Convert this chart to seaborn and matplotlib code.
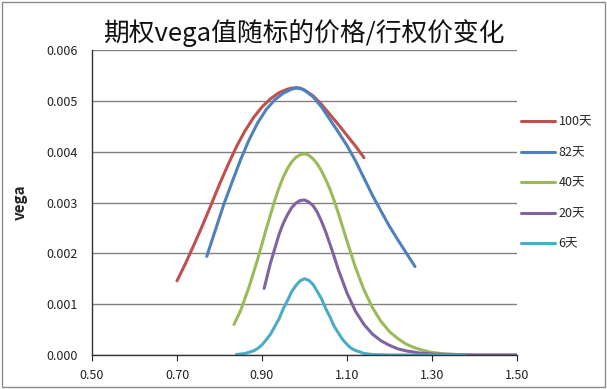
import seaborn as sns
import matplotlib.pyplot as plt
from matplotlib.patches import Rectangle
import pandas as pd

sns.set_theme(style="white")
plt.rcParams['font.family'] = ['Noto Sans CJK SC', 'DejaVu Sans']

# values (S/K ratio vs vega)
x_100 = [0.70, 0.72, 0.74, 0.76, 0.78, 0.80, 0.82, 0.84, 0.86, 0.88, 0.90, 0.92, 0.94,
         0.96, 0.97, 0.98, 0.99, 1.00, 1.02, 1.04, 1.06, 1.08, 1.10, 1.12, 1.14]
y_100 = [0.00146, 0.00180, 0.00217, 0.00255, 0.00295, 0.00336, 0.00374, 0.00410, 0.00441,
         0.00467, 0.00488, 0.00504, 0.00516, 0.00523, 0.00525, 0.00526, 0.00525, 0.00521,
         0.00510, 0.00493, 0.00473, 0.00453, 0.00432, 0.00411, 0.00388]

x_82 = [0.77, 0.79, 0.81, 0.83, 0.85, 0.87, 0.89, 0.91, 0.93, 0.95, 0.97, 0.98, 0.99,
        1.00, 1.02, 1.04, 1.06, 1.08, 1.10, 1.12, 1.14, 1.16, 1.18, 1.20, 1.22, 1.24, 1.26]
y_82 = [0.00194, 0.00245, 0.00296, 0.00341, 0.00385, 0.00424, 0.00457, 0.00483, 0.00502,
        0.00515, 0.00523, 0.00525, 0.00524, 0.00521, 0.00508, 0.00488, 0.00463, 0.00438,
        0.00412, 0.00382, 0.00348, 0.00314, 0.00283, 0.00253, 0.00226, 0.00200, 0.00174]

x_40 = [0.834, 0.85, 0.87, 0.89, 0.91, 0.93, 0.94, 0.95, 0.96, 0.97, 0.98, 0.99, 1.00,
        1.01, 1.02, 1.03, 1.04, 1.05, 1.06, 1.07, 1.08, 1.10, 1.12, 1.14, 1.16, 1.18,
        1.20, 1.22, 1.24, 1.26, 1.28, 1.30, 1.33, 1.36, 1.40, 1.50]
y_40 = [0.00060, 0.00088, 0.00135, 0.00189, 0.00248, 0.00304, 0.00329, 0.00350, 0.00367,
        0.00380, 0.00389, 0.00394, 0.00396, 0.00393, 0.00386, 0.00376, 0.00362, 0.00345,
        0.00326, 0.00303, 0.00278, 0.00224, 0.00172, 0.00128, 0.00093, 0.00066, 0.00046,
        0.00032, 0.00021, 0.00014, 0.00009, 0.00005, 0.00002, 0.00001, 0.0, 0.0]

x_20 = [0.905, 0.92, 0.94, 0.95, 0.96, 0.97, 0.98, 0.99, 1.00, 1.01, 1.02, 1.03, 1.04,
        1.05, 1.06, 1.07, 1.08, 1.10, 1.12, 1.14, 1.16, 1.18, 1.20, 1.22, 1.24, 1.27,
        1.30, 1.35, 1.40, 1.50]
y_20 = [0.00131, 0.00181, 0.00237, 0.00259, 0.00276, 0.00290, 0.00299, 0.00304, 0.00305,
        0.00301, 0.00294, 0.00281, 0.00263, 0.00242, 0.00218, 0.00193, 0.00167, 0.00122,
        0.00086, 0.00060, 0.00041, 0.00028, 0.00019, 0.00012, 0.00008, 0.00004, 0.00002,
        0.00001, 0.0, 0.0]

x_6 = [0.84, 0.86, 0.88, 0.89, 0.90, 0.91, 0.92, 0.93, 0.94, 0.95, 0.96, 0.97, 0.98,
       0.99, 1.00, 1.01, 1.02, 1.03, 1.04, 1.05, 1.06, 1.07, 1.08, 1.09, 1.10, 1.11,
       1.12, 1.14, 1.16, 1.20, 1.38]
y_6 = [0.00001, 0.00003, 0.00008, 0.00013, 0.00020, 0.00030, 0.00041, 0.00056, 0.00071,
       0.00091, 0.00107, 0.00125, 0.00137, 0.00146, 0.00150, 0.00147, 0.00139, 0.00125,
       0.00111, 0.00091, 0.00075, 0.00056, 0.00043, 0.00030, 0.00021, 0.00013, 0.00009,
       0.00003, 0.00001, 0.0, 0.0]

series = ["100天", "82天", "40天", "20天", "6天"]
colors = ["#C0504D", "#4F81BD", "#9BBB59", "#8064A2", "#4BACC6"]

frames = []
for name, xs, ys in zip(series, [x_100, x_82, x_40, x_20, x_6],
                        [y_100, y_82, y_40, y_20, y_6]):
    frames.append(pd.DataFrame({"ratio": xs, "vega": ys, "series": name}))
df = pd.concat(frames, ignore_index=True)

fig = plt.figure(figsize=(6.07, 3.89), dpi=100)
ax = fig.add_axes([92 / 607, 1 - 355 / 389, 425 / 607, 305 / 389])

sns.lineplot(data=df, x="ratio", y="vega", hue="series", hue_order=series,
             palette=colors, estimator=None, sort=False, linewidth=2.2, ax=ax)
for ln in ax.get_lines():
    ln.set_solid_joinstyle("round")
    ln.set_solid_capstyle("round")

ax.set_xlim(0.5, 1.5)
ax.set_ylim(0, 0.006)
ax.set_xticks([0.5, 0.7, 0.9, 1.1, 1.3, 1.5])
ax.set_xticklabels(["0.50", "0.70", "0.90", "1.10", "1.30", "1.50"])
ax.set_yticks([0, 0.001, 0.002, 0.003, 0.004, 0.005, 0.006])
ax.set_yticklabels(["0.000", "0.001", "0.002", "0.003", "0.004", "0.005", "0.006"])
ax.tick_params(axis="both", labelsize=9, colors="#222222", length=4, width=0.8,
               direction="out", pad=6)
ax.tick_params(axis="y", length=0, pad=10)
ax.xaxis.set_ticks_position("bottom")
ax.yaxis.grid(True, color="#808080", linewidth=1)
ax.xaxis.grid(False)
ax.set_axisbelow(True)
for side in ["top", "right"]:
    ax.spines[side].set_visible(False)
for side in ["left", "bottom"]:
    ax.spines[side].set_color("#333333")
    ax.spines[side].set_linewidth(1)

ax.set_xlabel("")
ax.set_ylabel("vega", fontsize=11, fontweight="bold", labelpad=4)
ax.yaxis.set_label_coords(-0.15, 0.5)

fig.text(0.5 * (97 + 510) / 607, 1 - 33 / 389, "期权vega值随标的价格/行权价变化",
         fontsize=18.5, ha="center", va="center", color="#111111")

ax.legend(loc="center left", bbox_to_anchor=(521 / 607, 1 - 183 / 389),
          bbox_transform=fig.transFigure, frameon=False, fontsize=9,
          borderpad=0, borderaxespad=0, handlelength=2.7, handletextpad=0.3,
          labelspacing=1.4, title=None)

fig.patches.append(Rectangle((0.004, 0.004), 0.992, 0.99, transform=fig.transFigure,
                             fill=False, edgecolor="#8c8c8c", linewidth=1))

fig.savefig("out.png", dpi=100)
